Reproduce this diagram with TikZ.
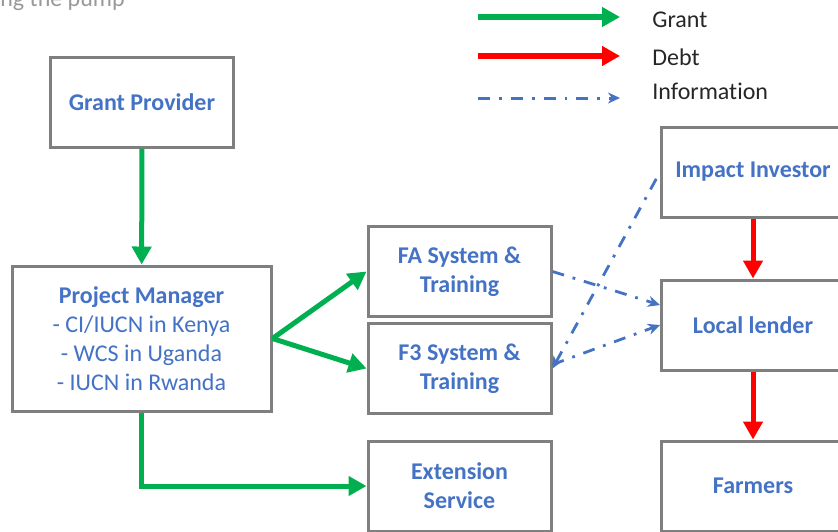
\documentclass[tikz,border=0pt,12pt]{standalone}
\usepackage{fontspec}
\setmainfont[Ligatures=NoCommon]{Carlito}
\usepackage{xcolor}
\usetikzlibrary{arrows.meta, positioning, calc}

\definecolor{boxblue}{HTML}{4472C4}
\definecolor{grantgreen}{HTML}{00B050}
\definecolor{debtred}{HTML}{FF0000}
\definecolor{boxgray}{HTML}{7F7F7F}

\begin{document}
\begin{tikzpicture}[x=0.5pt, y=-0.5pt,
    box/.style={draw=boxgray, line width=1.5pt, fill=white, text=boxblue,
        font=\bfseries, align=center, minimum width=91.5pt, minimum height=45pt},
    grant/.style={draw=grantgreen, line width=2.5pt, -{Triangle[length=9pt,width=9.5pt]}},
    debt/.style={draw=debtred, line width=2.5pt, -{Triangle[length=9pt,width=9.5pt]}},
    info/.style={draw=boxblue, line width=1.4pt,
        dash pattern=on 6pt off 4.5pt on 1.4pt off 4.5pt, -{Stealth[length=6pt,width=5.5pt]}},
    legtext/.style={anchor=west, text=black!85}]
    \useasboundingbox (0,0) rectangle (838,531);

    % 1. Title (cut off)
    \node[anchor=base west, inner sep=0pt, text=black!40] (title) at (0,6) {ng the pump};

    % 2. Legend
    \coordinate (g1) at (478,17);  \coordinate (g2) at (620,17);
    \coordinate (d1) at (478,56);  \coordinate (d2) at (620,56);
    \coordinate (i1) at (478,98);  \coordinate (i2) at (620,98);
    \draw[grant, line width=3pt] (g1) -- (g2);
    \draw[debt, line width=3pt] (d1) -- (d2);
    \draw[info, line width=1.5pt] (i1) -- (i2);
    \node[legtext] (lgrant) at (644,20) {Grant};
    \node[legtext] (ldebt) at (644,57) {Debt};
    \node[legtext] (linfo) at (644,91) {Information};

    % 3. Boxes
    \node[box] (gp) at (142,102) {Grant Provider};
    \node[box, font=\normalfont, minimum width=129.5pt, minimum height=72.5pt]
        (pm) at (141.5,338.5) {\textbf{Project Manager}\\- CI/IUCN in Kenya\\- WCS in Uganda\\- IUCN in Rwanda};
    \node[box] (fa) at (459.5,271.5) {FA System \&\\Training};
    \node[box] (f3) at (459.5,368.5) {F3 System \&\\Training};
    \node[box] (es) at (459.5,486) {Extension\\Service};
    \node[box] (ii) at (753,172) {Impact Investor};
    \node[box] (ll) at (753,325) {Local lender};
    \node[box] (fm) at (753,486) {Farmers};

    % 4. Grant flows
    \draw[grant] (gp) -- (pm);
    \draw[grant] (pm.east) -- (fa.west);
    \draw[grant] (pm.east) -- (f3.west);
    \draw[grant] (pm.south) |- (es.west);

    % 5. Debt flows
    \draw[debt] (ii) -- (ll);
    \draw[debt] (ll) -- (fm);

    % 6. Information flows
    \draw[info] (fa.east) -- ([yshift=10pt]ll.west);
    \draw[info] ([yshift=2pt]f3.east) -- (ll.west);
    \draw[info, {Stealth[length=6pt,width=5.5pt]}-] (f3.east) -- (ii.west);
\end{tikzpicture}
\end{document}
